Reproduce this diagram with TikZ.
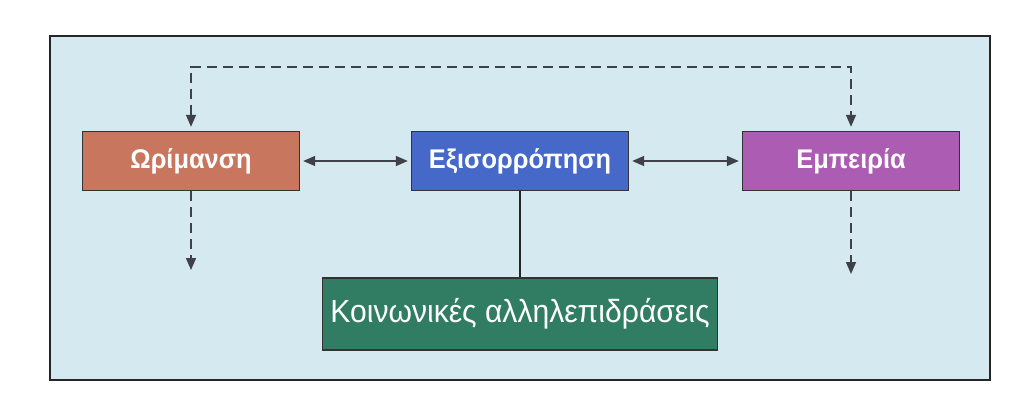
\documentclass[tikz,border=0pt]{standalone}
\usepackage{fontspec}
\setmainfont{Liberation Sans}
\newfontfamily\narrowsans[FakeStretch=0.94]{Liberation Sans}
\usetikzlibrary{arrows.meta}
\definecolor{bgblue}{RGB}{212,233,240}
\definecolor{orimcol}{RGB}{200,118,94}
\definecolor{exiscol}{RGB}{70,104,200}
\definecolor{empcol}{RGB}{172,92,178}
\definecolor{koincol}{RGB}{48,125,100}
\definecolor{arrowgray}{RGB}{64,64,72}

\begin{document}
\begin{tikzpicture}[x=1pt,y=-1pt,
  box/.style={draw=black!80, line width=1.4pt, minimum width=217pt, minimum height=59pt,
    text=white, font=\narrowsans\fontsize{27}{32}\selectfont\bfseries},
  link/.style={draw=arrowgray, line width=1.5pt},
  dlink/.style={link, dash pattern=on 10pt off 6pt},
  tip/.tip={Triangle[length=12pt,width=10pt]}]
\useasboundingbox (0,0) rectangle (1024,414);
\draw[fill=bgblue, draw=black!85, line width=1.8pt] (50,36) rectangle (990,380);
% the three stages
\node[box, fill=orimcol] (orim) at (191,161) {Ωρίμανση};
\node[box, fill=exiscol] (exis) at (520,161) {Εξισορρόπηση};
\node[box, fill=empcol] (emp) at (851,161) {Εμπειρία};
\node[box, fill=koincol, minimum width=395pt, minimum height=72pt,
  font=\narrowsans\fontsize{32}{38}\selectfont] (koin) at (520,314) {Κοινωνικές αλληλεπιδράσεις};
% free ends of the dashed arrows
\coordinate (loop) at (520,67);
\coordinate (orimout) at (191,270);
\coordinate (empout) at (851,274);
\draw[dlink, tip-tip, shorten <=4pt, shorten >=4pt] (orim.north) |- (loop) -| (emp.north);
\draw[dlink, -tip] (orim.south) -- (orimout);
\draw[dlink, -tip] (emp.south) -- (empout);
\draw[link, tip-tip, shorten <=3pt, shorten >=3pt] (orim) -- (exis);
\draw[link, tip-tip, shorten <=3pt, shorten >=3pt] (exis) -- (emp);
\draw[black!85, line width=1.2pt] (exis.south) -- (koin.north);
\end{tikzpicture}
\end{document}
